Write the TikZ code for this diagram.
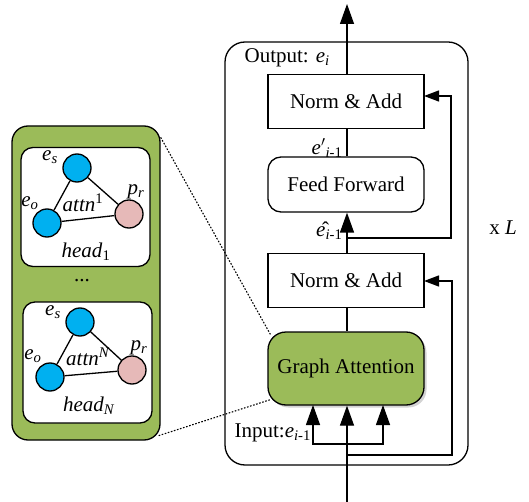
\documentclass[tikz,border=0pt]{standalone}
\usepackage{fontspec}
\setmainfont{Liberation Serif}
\usetikzlibrary{arrows.meta,shadows,calc}
\definecolor{gagreen}{HTML}{9BBB59}
\definecolor{ndblue}{HTML}{00B0F0}
\definecolor{ndpink}{HTML}{E6B9B8}
\newcommand{\vi}[1]{\textit{#1}}
\begin{document}
\begin{tikzpicture}[x=1pt,y=-1pt, line width=1.3pt,
  font=\fontsize{21}{24}\selectfont,
  sqbox/.style={draw, minimum width=156pt, minimum height=54pt, inner sep=0pt},
  rbox/.style={draw, rounded corners=13pt, minimum width=156pt, minimum height=55pt, inner sep=0pt},
  gabox/.style={draw, fill=gagreen, rounded corners=18pt, minimum width=156pt, minimum height=73pt, inner sep=0pt,
    drop shadow={shadow xshift=2.5pt, shadow yshift=-2.5pt, opacity=0.35}},
  headbox/.style={draw, fill=white, rounded corners=12pt, minimum width=129pt, minimum height=119pt, inner sep=0pt},
  ent/.style={circle, draw, fill=ndblue, minimum size=28pt, inner sep=0pt},
  rel/.style={circle, draw, fill=ndpink, minimum size=28pt, inner sep=0pt},
  bigtip/.style={-{Triangle[length=20pt,width=14pt]}},
  smalltip/.style={-{Triangle[length=15pt,width=11pt]}},
  dotline/.style={line width=1.1pt, dash pattern=on 1.6pt off 1.6pt},
  lbl/.style={inner sep=0pt}
]
\useasboundingbox (0,0) rectangle (529,502);

% outer block
\node[draw, rounded corners=20pt, minimum width=243pt, minimum height=423pt, inner sep=0pt] (outer) at (346.5,253.5) {};

\node[sqbox] (na1) at (346,101.5) {Norm \& Add};
\node[rbox] (ff) at (346,184.5) {Feed Forward};
\node[sqbox] (na2) at (346,280.5) {Norm \& Add};
\node[gabox] (ga) at (346,368.5) {Graph Attention};

\node[lbl, anchor=west] (outlbl) at (244,58) {Output: \vi{e}\textsubscript{\vi{i}}};
\node[lbl, anchor=east] (eplbl) at (343,148) {\vi{e}$'$\textsubscript{\vi{i}-1}};
\node[lbl, anchor=east] (ehlbl) at (343,231) {\^{\vi{e}}\textsubscript{\vi{i}-1}};
\node[lbl, anchor=west] (inlbl) at (234,433) {Input:\vi{e}\textsubscript{\vi{i}-1}};
\node[lbl] (xl) at (503,228) {x \vi{L}};

\coordinate (top) at (347,4);
\coordinate (bot) at (347,502);
\coordinate (j1) at (347,238);
\coordinate (r1a) at (451,238);
\coordinate (r1b) at (451,96);
\coordinate (t1) at (424,96);
\coordinate (j2) at (347,455);
\coordinate (r2a) at (452,455);
\coordinate (r2b) at (452,281);
\coordinate (t2) at (424,281);
\coordinate (h1) at (313,444);
\coordinate (h3) at (383,444);
\coordinate (g1) at (313,405);
\coordinate (g3) at (383,405);

\draw[bigtip] (na1.north -| top) -- (top);
\draw (na1.south -| top) -- (ff.north -| top);
\draw[bigtip] (na2.north -| top) -- (ff.south -| top);
\draw (na2.south -| top) -- (ga.north -| top);
\draw[smalltip] (j1) -- (r1a) -- (r1b) -- (t1);
\draw[smalltip] (j2) -- (r2a) -- (r2b) -- (t2);
\draw[bigtip] (bot) -- (ga.south -| bot);
\draw[bigtip] (h1 -| h3) -- (h1) -- (g1);
\draw[bigtip] (h1) -- (h3) -- (g3);

% left panel
\node[draw, fill=gagreen, rounded corners=16pt, minimum width=148pt, minimum height=314pt, inner sep=0pt] (panel) at (86,283) {};
\node[headbox] (hb1) at (85.5,207) {};
\node[headbox, minimum height=121pt] (hbn) at (87.5,362.5) {};

\node[ent] (es1) at (77,168) {};
\node[ent] (eo1) at (47,223) {};
\node[rel] (pr1) at (129,214) {};
\draw (es1) -- (eo1);
\draw (es1) -- (pr1);
\draw (eo1) -- (pr1);
\node[lbl] (les1) at (50,157) {\vi{e}\textsubscript{\vi{s}}};
\node[lbl] (leo1) at (30,203) {\vi{e}\textsubscript{\vi{o}}};
\node[lbl] (lpr1) at (136,192) {\vi{p}\textsubscript{\vi{r}}};
\node[lbl] (lat1) at (83,203) {\vi{attn}\textsuperscript{1}};
\node[lbl] (lh1) at (86,252) {\vi{head}\textsubscript{1}};

\node[lbl] (dots) at (82,281) {...};

\node[ent] (esn) at (80,322) {};
\node[ent] (eon) at (50,377) {};
\node[rel] (prn) at (132,370) {};
\draw (esn) -- (eon);
\draw (esn) -- (prn);
\draw (eon) -- (prn);
\node[lbl] (lesn) at (53,312) {\vi{e}\textsubscript{\vi{s}}};
\node[lbl] (leon) at (33,356) {\vi{e}\textsubscript{\vi{o}}};
\node[lbl] (lprn) at (139,348) {\vi{p}\textsubscript{\vi{r}}};
\node[lbl] (latn) at (88,357) {\vi{attn}\textsuperscript{\vi{N}}};
\node[lbl] (lhn) at (89,406) {\vi{head}\textsubscript{\vi{N}}};

\draw[dotline] ($(panel.north east)+(0,12)$) -- ($(ga.north west)+(3,3)$);
\draw[dotline] ($(panel.south east)+(-2,-5)$) -- ($(ga.south west)+(3,-6)$);
\end{tikzpicture}
\end{document}
